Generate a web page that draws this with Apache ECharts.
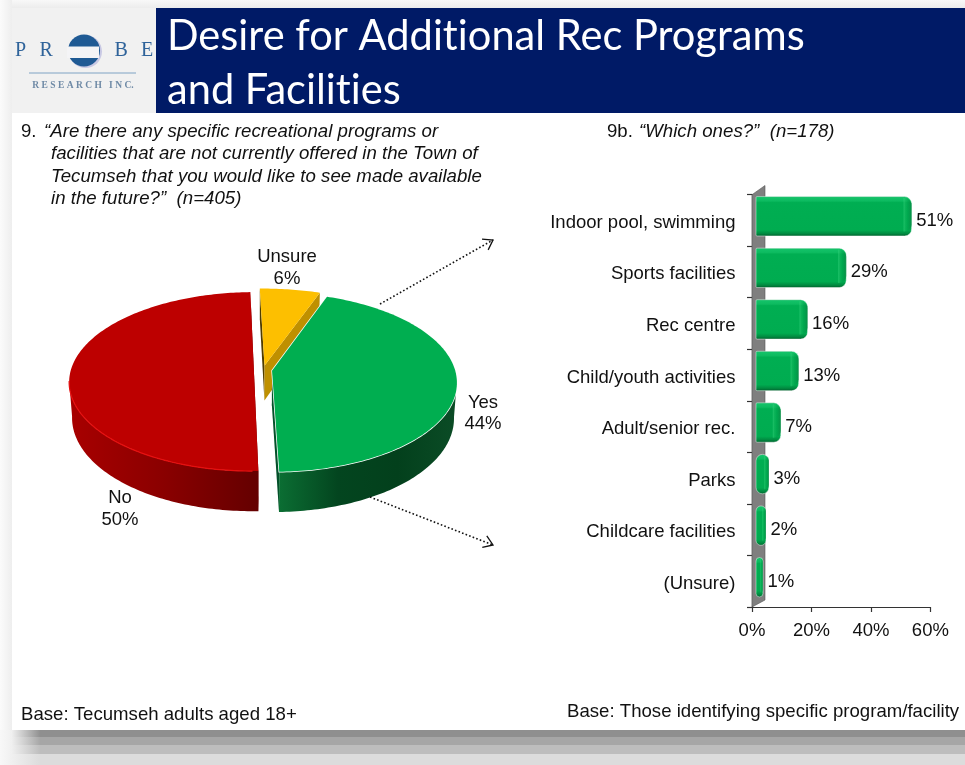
<!DOCTYPE html>
<html>
<head>
<meta charset="utf-8">
<style>html,body{margin:0;padding:0;background:#fff}#c{width:965px;height:765px}</style>
<script src="https://cdn.jsdelivr.net/npm/echarts@6/dist/echarts.min.js"></script>
</head>
<body>
<div id="c"></div>
<script>
const pieNames = ['Unsure', 'Yes', 'No'];
const pieValues = [6, 44, 50];
const barCategories = ['Indoor pool, swimming', 'Sports facilities', 'Rec centre', 'Child/youth activities', 'Adult/senior rec.', 'Parks', 'Childcare facilities', '(Unsure)'];
const barValues = [51, 29, 16, 13, 7, 3, 2, 1];
const xTicks = [0, 20, 40, 60];

const sansFont = '"Liberation Sans", Arial, sans-serif';
const chart = echarts.init(document.getElementById('c'), null, {renderer: 'canvas'});
const LG = echarts.graphic.LinearGradient;

/* perspective pie layout */
const pie = {cx: 263, cy: 370, a: 183, b: 88, p: 0.128, depth: 35, explode: 0.05, start: -1.6};
const pieStyle = {
  Unsure: {top: '#fdbf00', cutA: '#4f3c00', cutB: '#bf9000', side: ['#8a6800', '#bf9000'], labelX: 287, labelY: 268},
  Yes: {top: '#00ae50', cutA: '#04512a', cutB: '#04512a', side: ['#0b6e33', '#03451f', '#03401c', '#0b4c26'], labelX: 483, labelY: 413.5},
  No: {top: '#bd0000', cutA: '#6a0000', cutB: '#6a0000', side: ['#a80000', '#8a0000', '#640000'], rim: '#e61010', labelX: 120, labelY: 509}
};
const total = pieValues.reduce((s, v) => s + v, 0);
const rad = d => d * Math.PI / 180;

function project(u, v, low) {
  const w = 1 - pie.p * v;
  const x = pie.a * u / w, y = pie.b * v / w;
  return low ? [pie.cx + x * 0.985, pie.cy + y + pie.depth / w] : [pie.cx + x, pie.cy + y];
}
function renderPie(params, api) {
  const i = params.dataIndex;
  const name = pieNames[i], st = pieStyle[name];
  let before = 0;
  for (let k = 0; k < i; k++) before += pieValues[k];
  const a0 = pie.start + before / total * 360;
  const a1 = a0 + api.value(0) / total * 360;
  const mid = rad((a0 + a1) / 2);
  const ou = pie.explode * Math.sin(mid), ov = -pie.explode * Math.cos(mid);
  const pt = (deg, low) => project(ou + Math.sin(rad(deg)), ov - Math.cos(rad(deg)), low);
  const c = low => project(ou, ov, low);
  const arc = (from, to, low) => {
    const out = [], n = Math.max(2, Math.ceil(Math.abs(to - from)));
    for (let k = 0; k <= n; k++) out.push(pt(from + (to - from) * k / n, low));
    return out;
  };
  const children = [];
  const sideFrom = Math.max(a0, 97), sideTo = Math.min(a1, 263);
  /* cut faces */
  children.push({type: 'polygon', shape: {points: [c(false), pt(a0, false), pt(a0, true), c(true)]}, style: {fill: st.cutA}});
  children.push({type: 'polygon', shape: {points: [c(false), pt(a1, false), pt(a1, true), c(true)]}, style: {fill: st.cutB}});
  /* outer wall */
  if (sideTo > sideFrom) {
    const stops = st.side.map((color, k) => ({offset: k / (st.side.length - 1), color}));
    children.push({type: 'polygon',
      shape: {points: arc(sideFrom, sideTo, false).concat(arc(sideTo, sideFrom, true))},
      style: {fill: new LG(0, 0, 1, 0, stops)}});
  }
  /* top face */
  const face = [c(false)].concat(arc(a0, a1, false));
  children.push({type: 'polygon', shape: {points: face},
    style: {fill: st.top, stroke: name === 'Yes' ? '#ffffff' : 'none', lineWidth: name === 'Yes' ? 1.5 : 0}});
  if (name === 'Yes') {
    children.push({type: 'polygon', shape: {points: face}, style: {fill: st.top}});
  }
  if (st.rim) {
    children.push({type: 'polyline', shape: {points: arc(Math.max(a0, 180), Math.min(a1, 263), false)},
      style: {stroke: st.rim, lineWidth: 1.2, fill: 'none'}});
  }
  children.push({type: 'text', style: {text: name + '\n' + api.value(0) + '%', x: st.labelX, y: st.labelY,
    align: 'center', verticalAlign: 'middle', font: '18.5px ' + sansFont, fill: '#111', lineHeight: 21.5}});
  return {type: 'group', children};
}

/* 3D-look bars: the chart draws them offset against the back wall */
const wallShift = 8, barFoot = 4, barUp = 4, barH = 39.4;
function renderBar(params, api) {
  const v = api.value(0);
  const zero = api.coord([0, api.value(1)]);
  const end = api.coord([v, api.value(1)]);
  const x0 = zero[0] + barFoot, x1 = end[0] + wallShift;
  const yc = zero[1] - barUp, y0 = yc - barH / 2, w = x1 - x0;
  const r = Math.min(7, w / 2);
  const rr = v < 5 ? [r, r, r, r] : [1, r, r, 1];
  const bevel = Math.min(8, w * 0.35);
  return {type: 'group', children: [
    {type: 'rect', shape: {x: x0, y: y0, width: w, height: barH, r: rr},
      style: {stroke: 'rgba(255,255,255,.45)', lineWidth: 1,
        fill: new LG(0, 0, 0, 1, [
          {offset: 0, color: '#14a95b'}, {offset: 0.04, color: '#12c268'}, {offset: 0.12, color: '#0dbb60'}, {offset: 0.16, color: '#00ae52'},
          {offset: 0.84, color: '#00ac50'}, {offset: 0.93, color: '#018a40'}, {offset: 1, color: '#005a2a'}])}},
    {type: 'rect', shape: {x: x1 - bevel, y: y0 + 1.5, width: bevel, height: barH - 6, r: [0, r, r, 0]},
      style: {fill: new LG(0, 0, 1, 0, [
        {offset: 0, color: 'rgba(60,215,130,.55)'}, {offset: 0.22, color: 'rgba(30,190,100,.35)'}, {offset: 0.5, color: 'rgba(0,160,75,.4)'}, {offset: 1, color: 'rgba(10,130,65,.75)'}])}},
    {type: 'text', style: {text: v + '%', x: x1 + 4.5, y: yc + 4.5, align: 'left', verticalAlign: 'middle',
      font: '18.5px ' + sansFont, fill: '#111'}}
  ]};
}

function arrow(x1, y1, x2, y2) {
  const ang = Math.atan2(y2 - y1, x2 - x1), L = 11, s = 0.6;
  return [
    {type: 'line', z: 5, shape: {x1, y1, x2, y2}, style: {stroke: '#111', lineWidth: 1.6, lineDash: [1.6, 2.2]}},
    {type: 'polyline', z: 5, shape: {points: [
      [x2 - L * Math.cos(ang - s), y2 - L * Math.sin(ang - s)], [x2, y2],
      [x2 - L * Math.cos(ang + s), y2 - L * Math.sin(ang + s)]]},
      style: {stroke: '#111', lineWidth: 1.3, fill: 'none'}}
  ];
}
function shadowBand(y, h, color) {
  return {type: 'rect', z: -9, shape: {x: 0, y, width: 965, height: h},
    style: {fill: new LG(0, 0, 1, 0, [{offset: 0, color: '#f8f8f8'}, {offset: 0.012, color: '#f0f0f0'}, {offset: 0.042, color}, {offset: 1, color}])}};
}
const qStyle = {font: 'italic 18.65px ' + sansFont, fill: '#111', verticalAlign: 'middle'};
const plainText = {font: '18.6px ' + sansFont, fill: '#111', verticalAlign: 'middle'};
const logoBlue = '#2f639a';
const serif = '"Liberation Serif", "DejaVu Serif", serif';
const titleFont = '41.6px Lato, "Open Sans", sans-serif';

const graphicEls = [
  {type: 'rect', z: -10, shape: {x: 0, y: 0, width: 965, height: 765}, style: {fill: '#ffffff'}},
  {type: 'rect', z: -9, shape: {x: 0, y: 0, width: 965, height: 8}, style: {fill: new LG(0, 0, 0, 1, [{offset: 0, color: '#f8f8f8'}, {offset: 1, color: '#ececec'}])}},
  {type: 'rect', z: -9, shape: {x: 0, y: 0, width: 12, height: 730}, style: {fill: new LG(0, 0, 1, 0, [{offset: 0, color: '#fbfbfb'}, {offset: 1, color: '#eeeeee'}])}},
  shadowBand(730, 7, '#8f8f8f'), shadowBand(737, 8, '#a6a6a6'), shadowBand(745, 9, '#bdbdbd'), shadowBand(754, 11, '#dcdcdc'),
  {type: 'rect', z: -8, shape: {x: 12, y: 8, width: 953, height: 105}, style: {fill: '#f1f1f1'}},
  {type: 'rect', z: -7, shape: {x: 156, y: 8, width: 809, height: 105}, style: {fill: '#001a66'}},
  {type: 'text', z: 3, style: {text: 'Desire for Additional Rec Programs', x: 167, y: 36.5, font: titleFont, fill: '#ffffff', verticalAlign: 'middle'}},
  {type: 'text', z: 3, style: {text: 'and Facilities', x: 167, y: 91, font: titleFont, fill: '#ffffff', verticalAlign: 'middle'}},
  /* logo */
  {type: 'circle', z: 1, shape: {cx: 85.5, cy: 51.5, r: 16.5}, style: {fill: '#c9c9e4'}},
  {type: 'circle', z: 2, shape: {cx: 84, cy: 50.5, r: 16}, style: {fill: '#1f5a94'}},
  {type: 'rect', z: 3, shape: {x: 67, y: 46.5, width: 32, height: 11.5}, style: {fill: '#f4f4f6'}},
  {type: 'text', z: 3, style: {text: 'P', x: 15, y: 51, font: '20px ' + serif, fill: logoBlue, verticalAlign: 'middle'}},
  {type: 'text', z: 3, style: {text: 'R', x: 39.5, y: 51, font: '20px ' + serif, fill: logoBlue, verticalAlign: 'middle'}},
  {type: 'text', z: 3, style: {text: 'B', x: 114.5, y: 51, font: '20px ' + serif, fill: logoBlue, verticalAlign: 'middle'}},
  {type: 'text', z: 3, style: {text: 'E', x: 141, y: 51, font: '20px ' + serif, fill: logoBlue, verticalAlign: 'middle'}},
  {type: 'line', z: 3, shape: {x1: 29, y1: 73, x2: 136, y2: 73}, style: {stroke: '#7fa3c4', lineWidth: 1}},
  {type: 'text', z: 3, style: {text: 'R E S E A R C H   I N C.', x: 83, y: 85.5, font: 'bold 9.5px ' + serif, fill: '#6f8aa6', align: 'center', verticalAlign: 'middle'}},
  /* question text */
  {type: 'text', z: 3, style: Object.assign({text: '9.', x: 21, y: 132}, plainText)},
  {type: 'text', z: 3, style: Object.assign({text: '\u201CAre there any specific recreational programs or', x: 44, y: 132}, qStyle)},
  {type: 'text', z: 3, style: Object.assign({text: 'facilities that are not currently offered in the Town of', x: 51, y: 154}, qStyle)},
  {type: 'text', z: 3, style: Object.assign({text: 'Tecumseh that you would like to see made available', x: 51, y: 177}, qStyle)},
  {type: 'text', z: 3, style: Object.assign({text: 'in the future?\u201D  (n=405)', x: 51, y: 199}, qStyle)},
  {type: 'text', z: 3, style: Object.assign({text: '9b.', x: 607, y: 132}, plainText)},
  {type: 'text', z: 3, style: Object.assign({text: '\u201CWhich ones?\u201D  (n=178)', x: 639, y: 132}, qStyle)},
  {type: 'text', z: 3, style: Object.assign({text: 'Base: Tecumseh adults aged 18+', x: 21, y: 715}, plainText)},
  {type: 'text', z: 3, style: Object.assign({text: 'Base: Those identifying specific program/facility', x: 567, y: 712}, plainText)},
  /* chart back wall */
  {type: 'polygon', z: 1, shape: {points: [[752, 194.7], [765, 185.5], [765, 600], [752, 607]]}, style: {fill: '#7f7f7f', stroke: '#555', lineWidth: 0.6}}
].concat(arrow(380, 304, 493, 240), arrow(370, 497, 493, 545));

chart.setOption({
  animation: false,
  backgroundColor: '#ffffff',
  graphic: {elements: graphicEls},
  grid: {left: 752, top: 194.5, width: 178.4, height: 412.5, containLabel: false},
  xAxis: {
    type: 'value', min: xTicks[0], max: xTicks[xTicks.length - 1], interval: xTicks[1] - xTicks[0],
    splitLine: {show: false},
    axisLine: {show: true, lineStyle: {color: '#333', width: 1.2}},
    axisTick: {show: true, length: 5, lineStyle: {color: '#333', width: 1.2}},
    axisLabel: {formatter: '{value}%', fontFamily: sansFont, fontSize: 18.5, color: '#111', margin: 14, showMinLabel: true, showMaxLabel: true}
  },
  yAxis: {
    type: 'category', inverse: true, data: barCategories,
    axisLine: {show: true, onZero: false, lineStyle: {color: '#333', width: 1.2}},
    axisTick: {show: true, length: 5, alignWithLabel: false, lineStyle: {color: '#333', width: 1.2}},
    axisLabel: {color: '#111', margin: 16.5, interval: 0, formatter: '{a|{value}}',
      rich: {a: {fontFamily: sansFont, fontSize: 18.5, color: '#111', padding: [5, 0, 0, 0]}}}
  },
  series: [
    {type: 'custom', name: 'Which ones', coordinateSystem: 'cartesian2d', z: 3, clip: false,
      encode: {x: 0, y: 1}, renderItem: renderBar,
      data: barValues.map((v, i) => [v, i])},
    {type: 'custom', name: 'Desire', coordinateSystem: 'none', z: 3, renderItem: renderPie,
      data: pieValues.map((v, i) => ({name: pieNames[i], value: [v]}))}
  ]
});
/* the reference's title face has no "ti" ligature: a tiny letter spacing switches ligatures off */
const mainCanvas = document.querySelector('#c canvas');
if (mainCanvas) {
  mainCanvas.getContext('2d').letterSpacing = '0.01px';
  chart.getZr().painter.refresh(true);
}
</script>
</body>
</html>
